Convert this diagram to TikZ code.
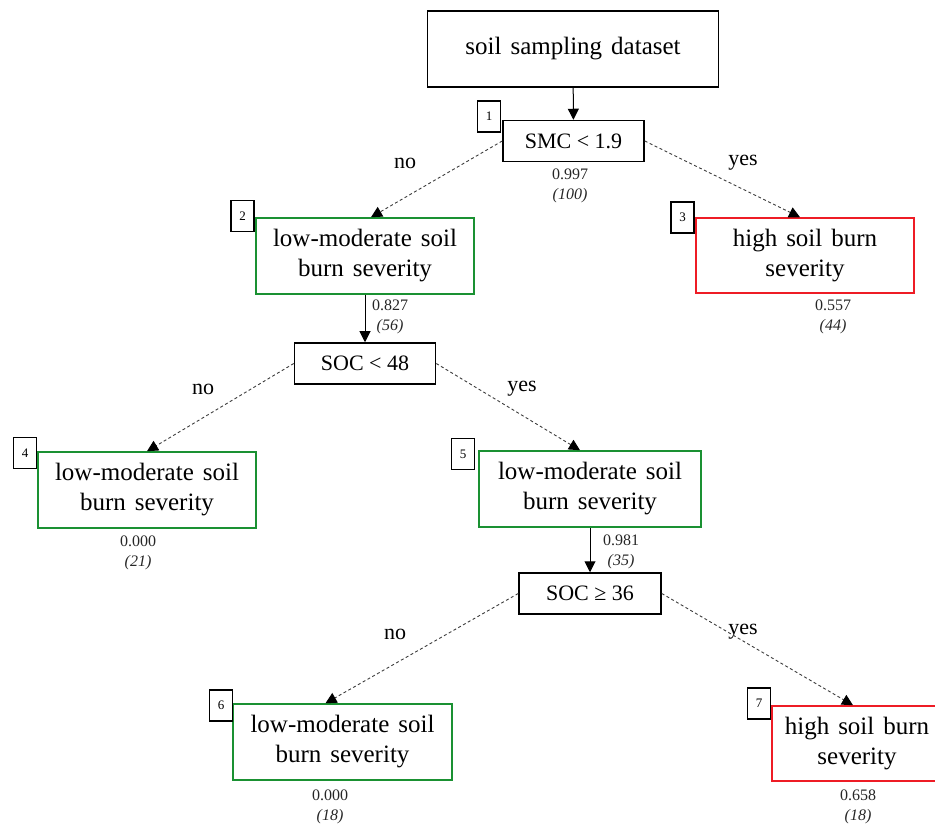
\documentclass[tikz,border=0pt]{standalone}
\usepackage{fontspec}
\setmainfont{Liberation Serif}
\usetikzlibrary{arrows.meta}
\definecolor{cleaf}{HTML}{1A9132}
\definecolor{chigh}{HTML}{EE1C25}
\definecolor{cdash}{HTML}{3C3C3C}
\newcommand{\widesp}{\spaceskip=9pt plus 2pt\relax}

\begin{document}
\begin{tikzpicture}[x=1pt,y=-1pt,>={Triangle[length=11pt,width=11pt,color=black]},
  split/.style={draw,line width=1.5pt,minimum width=141pt,minimum height=41pt,inner sep=0pt,font=\fontsize{22}{26}\selectfont},
  leaf/.style={draw=cleaf,line width=1.5pt,minimum width=218pt,minimum height=76pt,inner sep=0pt,align=center,font=\fontsize{25}{30}\selectfont\widesp},
  high/.style={leaf,draw=chigh},
  idx/.style={draw,line width=1.6pt,minimum width=23pt,minimum height=31pt,inner sep=0pt,font=\fontsize{13}{15}\selectfont},
  val/.style={align=center,text=black!85,font=\fontsize{16}{20}\selectfont},
  lbl/.style={font=\fontsize{22}{25}\selectfont},
  dsh/.style={->,dashed,dash pattern=on 3pt off 2.5pt,draw=cdash,line width=0.9pt}]
  \useasboundingbox (0,0) rectangle (935,826);
  \clip (0,0) rectangle (935,826);
  % data and first split
  \node[split,minimum width=291pt,minimum height=76pt,font=\fontsize{25}{30}\selectfont\widesp] (data) at (573,49) {soil sampling dataset};
  \node[split] (smc) at (573.5,141) {SMC < 1.9};
  \node[idx] (i1) at (489,116.5) {1};
  \node[val] (v1) at (570,186) {0.997\\\textit{(100)}};
  % second level
  \node[leaf] (n2) at (365,256) {low-moderate soil\\burn severity};
  \node[idx] (i2) at (242.5,216) {2};
  \node[val] (v2) at (390,317) {0.827\\\textit{(56)}};
  \node[high,minimum height=75pt] (n3) at (805,255.5) {high soil burn\\severity};
  \node[idx] (i3) at (682.5,217.5) {3};
  \node[val] (v3) at (833,317) {0.557\\\textit{(44)}};
  \node[split] (soc48) at (365,363.5) {SOC < 48};
  % third level
  \node[leaf] (n4) at (147,490) {low-moderate soil\\burn severity};
  \node[idx] (i4) at (25,453) {4};
  \node[val] (v4) at (138,553) {0.000\\\textit{(21)}};
  \node[leaf,minimum width=222pt] (n5) at (590,489) {low-moderate soil\\burn severity};
  \node[idx] (i5) at (463,454) {5};
  \node[val] (v5) at (621,552) {0.981\\\textit{(35)}};
  \node[split,minimum width=142pt] (soc36) at (590,593.5) {SOC ≥ 36};
  % last level
  \node[leaf,minimum width=219pt] (n6) at (342.5,742) {low-moderate soil\\burn severity};
  \node[idx] (i6) at (221,705.5) {6};
  \node[val] (v6) at (330,807) {0.000\\\textit{(18)}};
  \node[high,minimum width=170pt,minimum height=75pt] (n7) at (857,743.5) {high soil burn\\severity};
  \node[idx] (i7) at (759,703.5) {7};
  \node[val] (v7) at (858,807) {0.658\\\textit{(18)}};
  % branch words
  \node[lbl] (no1) at (405,163) {no};
  \node[lbl] (yes1) at (743,163) {yes};
  \node[lbl] (no2) at (203,389) {no};
  \node[lbl] (yes2) at (522,389) {yes};
  \node[lbl] (no3) at (395,634) {no};
  \node[lbl] (yes3) at (743,632) {yes};
  % connectors
  \draw[->,line width=1pt] (data) -- (smc);
  \draw[dsh] (smc.west) -- ([xshift=6pt]n2.north);
  \draw[dsh] (smc.east) -- ([xshift=-5pt]n3.north);
  \draw[->,line width=1pt] (n2) -- (soc48);
  \draw[dsh] (soc48.west) -- (n4.north);
  \draw[dsh] (soc48.east) -- ([xshift=-10pt]n5.north);
  \draw[->,line width=1pt] (n5) -- (soc36);
  \draw[dsh] (soc36.west) -- ([xshift=-17pt]n6.north);
  \draw[dsh] (soc36.east) -- ([xshift=-4pt]n7.north);
\end{tikzpicture}
\end{document}
